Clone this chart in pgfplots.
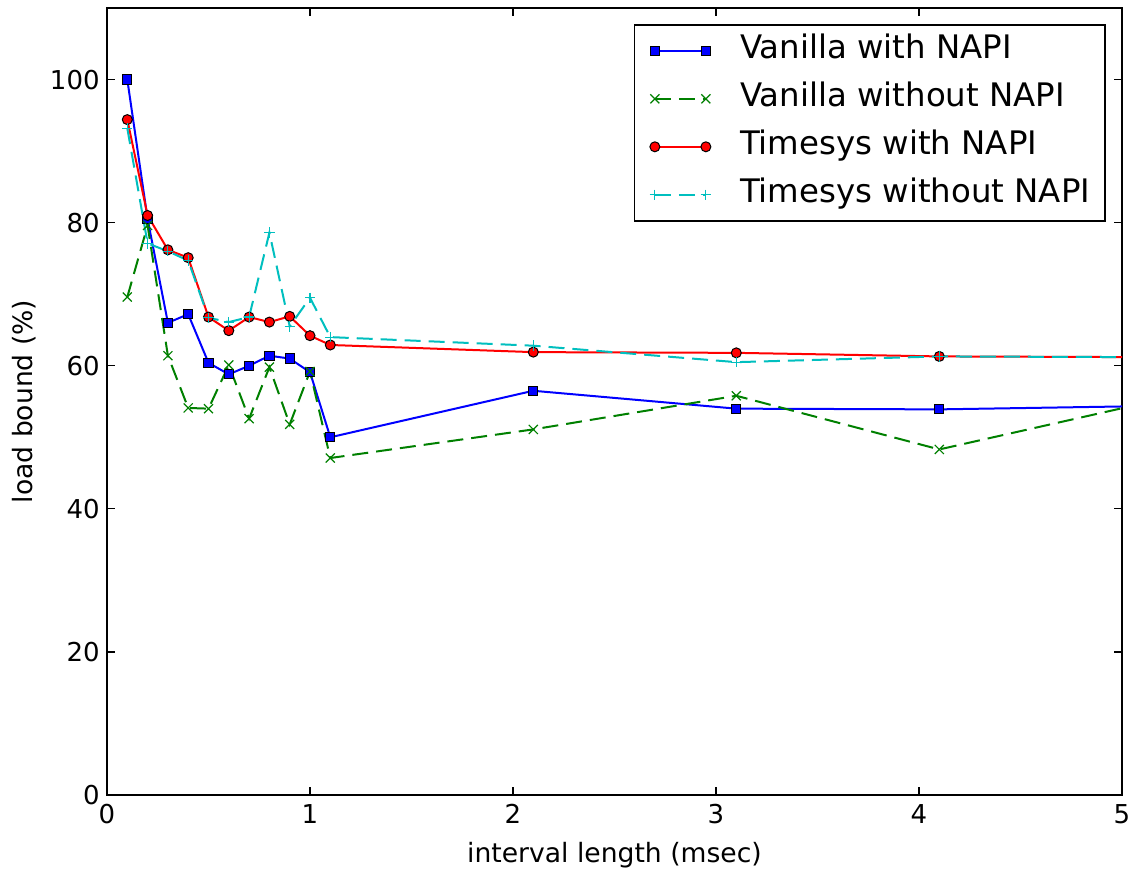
\documentclass[border=0pt]{standalone}
\usepackage{pgfplots}
\pgfplotsset{compat=1.18}
\usepackage{pgfplotstable}
\usepackage{fontspec}
\setmainfont{DejaVu Sans}

\definecolor{mplblue}{rgb}{0,0,1}
\definecolor{mplgreen}{rgb}{0,0.5,0}
\definecolor{mplred}{rgb}{1,0,0}
\definecolor{mplcyan}{rgb}{0,0.75,0.75}

% load bound (%) against interval length (msec)
\pgfplotstableread{
x     vn     vw     tn     tw
0.1   100.0  69.6   94.4   93.2
0.2   80.5   79.6   81.0   77.1
0.3   66.0   61.4   76.2   76.0
0.4   67.2   54.1   75.1   74.7
0.5   60.4   54.0   66.8   66.7
0.6   58.8   60.1   64.9   66.1
0.7   60.0   52.6   66.8   66.8
0.8   61.4   59.8   66.1   78.6
0.9   61.0   51.8   66.9   65.5
1.0   59.1   59.2   64.2   69.5
1.1   50.0   47.1   62.9   64.0
2.1   56.5   51.1   61.9   62.8
3.1   54.0   55.8   61.8   60.5
4.1   53.9   48.3   61.3   61.3
5.1   54.35  54.7   61.2   61.2
}\loadbound

\pgfplotsset{
  twomark legend/.style={
    legend image code/.code={
      \draw[mark repeat=1, mark phase=1, ##1] plot coordinates {(0pt,0pt) (25.5pt,0pt)};
    }
  }
}

\begin{document}
\begin{tikzpicture}
\begin{axis}[
  scale only axis,
  width=507.5pt, height=393.5pt,
  xmin=0, xmax=5, ymin=0, ymax=110,
  xtick={0,1,2,3,4,5},
  ytick={0,20,40,60,80,100},
  minor tick num=0,
  tick align=inside,
  major tick length=4pt,
  tick style={black, line width=0.6pt},
  axis line style={black, line width=1.1pt},
  /pgf/number format/assume math mode=true,
  ticklabel style={font=\fontsize{13}{15}\selectfont},
  xticklabel style={anchor=base, inner sep=0pt, yshift=-14pt},
  yticklabel style={anchor=east, inner sep=0pt, xshift=-3.5pt},
  label style={font=\fontsize{13.3}{16}\selectfont},
  xlabel={interval length (msec)},
  xlabel style={at={([yshift=-33.5pt]axis description cs:0.5,0)}, anchor=base, inner sep=0pt},
  ylabel={load bound (\%)},
  ylabel style={at={([xshift=-37pt]axis description cs:0,0.5)}, anchor=base, inner sep=0pt},
  legend style={
    at={([xshift=-8pt,yshift=-8pt]axis description cs:1,1)}, anchor=north east,
    draw=black, line width=0.8pt, fill=white,
    font=\fontsize{16.2}{19}\selectfont,
    inner xsep=7.5pt, inner ysep=5pt,
    row sep=8pt, column sep=14.5pt,
    nodes={inner sep=0pt, text height=12pt, text depth=4pt},
  },
  legend cell align=left,
  twomark legend,
]
\addplot[mplblue, line width=1pt, mark=square*, mark size=2.3pt,
  mark options={solid, fill=mplblue, draw=black, line width=0.5pt}]
  table[x=x, y=vn] {\loadbound};
\addlegendentry{Vanilla with NAPI}

\addplot[mplgreen, line width=1pt, dash pattern=on 8pt off 4pt, mark=x, mark size=3.2pt,
  mark options={solid, line width=0.6pt}]
  table[x=x, y=vw] {\loadbound};
\addlegendentry{Vanilla without NAPI}

\addplot[mplred, line width=1pt, mark=*, mark size=2.5pt,
  mark options={solid, fill=mplred, draw=black, line width=0.5pt}]
  table[x=x, y=tn] {\loadbound};
\addlegendentry{Timesys with NAPI}

\addplot[mplcyan, line width=1pt, dash pattern=on 8pt off 4pt, mark=+, mark size=2.6pt,
  mark options={solid, line width=0.6pt}]
  table[x=x, y=tw] {\loadbound};
\addlegendentry{Timesys without NAPI}
\end{axis}
\path[use as bounding box] ([shift={(-53.5pt,-37pt)}]current axis.south west)
  rectangle ([shift={(7pt,4pt)}]current axis.north east);
\end{tikzpicture}
\end{document}
